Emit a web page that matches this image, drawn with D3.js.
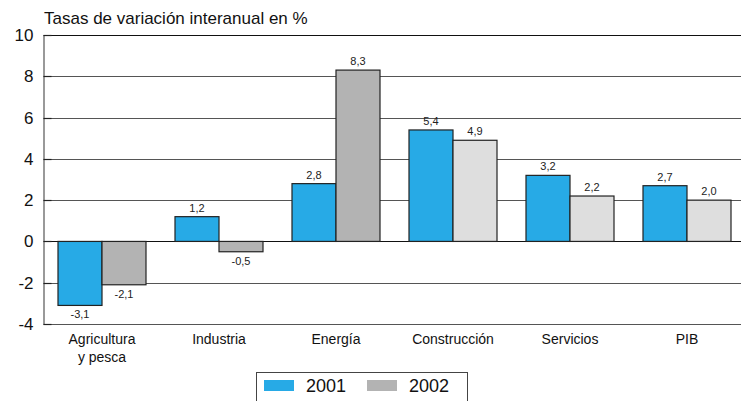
<!DOCTYPE html>
<html><head><meta charset="utf-8">
<script src="https://cdn.jsdelivr.net/npm/d3@7"></script>
<style>body{margin:0;background:#fff}svg{display:block;font-family:"Liberation Sans",Arial,sans-serif}</style>
</head><body><svg id="c" width="741" height="401"></svg>
<script>
const categories = ["Agricultura\ny pesca","Industria","Energía","Construcción","Servicios","PIB"];
const series = ["2001","2002"];
const values2001 = [-3.1, 1.2, 2.8, 5.4, 3.2, 2.7];
const values2002 = [-2.1, -0.5, 8.3, 4.9, 2.2, 2.0];
const yTicks = [-4,-2,0,2,4,6,8,10];
const title = "Tasas de variación interanual en %";
const blue = "#27aae6";
const greyDark = "#b3b3b3";
const greyLight = "#dedede";

(function(){
const svg = d3.select("#c");
const pLeft = 43.5, pRight = 745.5, pTop = 35, pBottom = 324;
const x = d3.scaleBand().domain(categories).range([pLeft, pRight]).paddingInner(0).paddingOuter(0);
const x1 = d3.scaleBand().domain(series).range([14.5, x.bandwidth()-14.5]);
const y = d3.scaleLinear().domain([-4,10]).range([pBottom, pTop]);
const fmt = v => d3.format(".1f")(v).replace(".", ",").replace("\u2212", "-");

// gridlines
svg.append("g").selectAll("line").data(yTicks).join("line")
  .attr("x1", pLeft).attr("x2", 741).attr("y1", d=>Math.round(y(d))+0.5).attr("y2", d=>Math.round(y(d))+0.5)
  .attr("stroke", d => (d===0||d===10) ? "#111" : "#555").attr("stroke-width", 1);
// left axis
const ax = svg.append("g").attr("transform", `translate(${pLeft},0)`)
  .call(d3.axisLeft(y).tickValues(yTicks).tickSize(0).tickPadding(10).tickFormat(d=>String(d)));
ax.select(".domain").attr("stroke","#777").attr("stroke-width",1.5);
ax.selectAll("text").attr("font-size", 17).attr("fill","#111").attr("font-family","Liberation Sans, Arial, sans-serif");
// small tick marks
svg.append("g").selectAll("line").data(yTicks).join("line")
  .attr("x1", pLeft).attr("x2", pLeft+8).attr("y1", d=>Math.round(y(d))+0.5).attr("y2", d=>Math.round(y(d))+0.5)
  .attr("stroke","#222").attr("stroke-width",1.2);

// bars
const data = [];
categories.forEach((c,i)=>{
  data.push({c, s:"2001", v:values2001[i], fill: blue});
  data.push({c, s:"2002", v:values2002[i], fill: i<3 ? greyDark : greyLight});
});
svg.append("g").selectAll("rect").data(data).join("rect")
  .attr("x", d=>x(d.c)+x1(d.s)).attr("width", x1.bandwidth())
  .attr("y", d=>y(Math.max(0,d.v))).attr("height", d=>Math.abs(y(d.v)-y(0)))
  .attr("fill", d=>d.fill).attr("stroke","#222").attr("stroke-width",1.2);
// value labels
svg.append("g").selectAll("text").data(data).join("text")
  .attr("x", d=>x(d.c)+x1(d.s)+x1.bandwidth()/2)
  .attr("y", d=> d.v>=0 ? y(d.v)-5 : y(d.v)+13)
  .attr("text-anchor","middle").attr("font-size",11).attr("fill","#222")
  .text(d=>fmt(d.v));

// category labels
const cl = svg.append("g").selectAll("text").data(categories).join("text")
  .attr("x", d=>x(d)+x.bandwidth()/2).attr("y", 344)
  .attr("text-anchor","middle").attr("font-size",14).attr("fill","#111");
cl.each(function(d){
  const t = d3.select(this);
  d.split("\n").forEach((line,i)=>{
    t.append("tspan").attr("x", x(d)+x.bandwidth()/2).attr("dy", i? 18:0).text(line);
  });
});

// title
svg.append("text").attr("x", 44).attr("y", 24).attr("font-size",17).attr("fill","#111").text(title);

// legend
const lg = svg.append("g");
lg.append("rect").attr("x",256.5).attr("y",372.5).attr("width",211).attr("height",40)
  .attr("fill","#fff").attr("stroke","#444").attr("stroke-width",1);
const legendItems = [{s:"2001", fill:blue, x:264},{s:"2002", fill:greyDark, x:367}];
legendItems.forEach(it=>{
  lg.append("rect").attr("x",it.x).attr("y",380).attr("width",30).attr("height",11).attr("fill",it.fill);
  lg.append("text").attr("x",it.x+42).attr("y",392).attr("font-size",18).attr("fill","#111").text(it.s);
});
})();
</script></body></html>
